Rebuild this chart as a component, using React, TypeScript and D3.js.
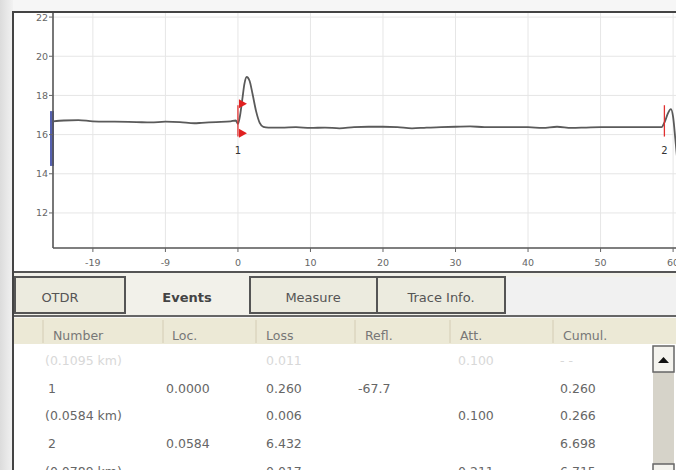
import React from "react";
import * as d3 from "d3";

const W = 676;
const H = 470;

// trace: [distance km, level dB]
const traceX = [-25.5, -24, -22, -20, -17, -14, -12, -10, -8, -6, -5, -3, -1, -0.3, 0, 0.3, 0.6, 0.9, 1.2, 1.6, 2.0, 2.5, 3.0, 3.5, 4.2, 6, 8, 10, 12, 14, 16, 18, 20, 22, 24, 26, 28, 30, 32, 34, 36, 40, 42, 44, 46, 48, 50, 54, 58.4, 58.9, 59.3, 59.7, 60.0, 60.3, 60.6];
const traceY = [16.68, 16.72, 16.74, 16.68, 16.66, 16.64, 16.62, 16.66, 16.64, 16.58, 16.6, 16.64, 16.68, 16.72, 16.55, 17.0, 17.8, 18.6, 18.94, 18.75, 18.1, 17.2, 16.6, 16.4, 16.36, 16.36, 16.38, 16.34, 16.36, 16.32, 16.38, 16.4, 16.4, 16.38, 16.32, 16.36, 16.38, 16.4, 16.42, 16.38, 16.38, 16.38, 16.34, 16.4, 16.34, 16.36, 16.38, 16.38, 16.38, 16.7, 17.1, 17.3, 16.9, 15.8, 14.6];

const xTicks = [-20, -10, 0, 10, 20, 30, 40, 50, 60];
const xTickLabels = ["-19", "-9", "0", "10", "20", "30", "40", "50", "60"];
const yTicks = [12, 14, 16, 18, 20, 22];

const eventKm = [0, 58.8];
const eventLabels = ["1", "2"];

const tabs = ["OTDR", "Events", "Measure", "Trace Info."];
const columns = ["Number", "Loc.", "Loss", "Refl.", "Att.", "Cumul."];
const rowNumber = ["(0.1095 km)", "1", "(0.0584 km)", "2", "(0.0789 km)"];
const rowLoc = ["", "0.0000", "", "0.0584", ""];
const rowLoss = ["0.011", "0.260", "0.006", "6.432", "0.017"];
const rowRefl = ["", "-67.7", "", "", ""];
const rowAtt = ["0.100", "", "0.100", "", "0.211"];
const rowCumul = ["- -", "0.260", "0.266", "6.698", "6.715"];

const FONT = "'DejaVu Sans', Verdana, sans-serif";

export default function App() {
  const left = 53;
  const right = 676;
  const top = 12;
  const bottom = 248;
  const x = d3.scaleLinear().domain([-25.5, 60.4]).range([left, right]);
  const y = d3.scaleLinear().domain([10.21, 22.26]).range([bottom, top]);
  const line = d3
    .line<number>()
    .x((_, i) => x(traceX[i]))
    .y((d) => y(d))
    .curve(d3.curveMonotoneX);

  const tabX = [15, 125, 250, 377, 505];
  const tabCenters = [60, 187, 313, 441];
  const sepX = [43, 163, 256, 355, 450, 553];
  const textX = [45, 166, 266, 358, 458, 560];
  const headX = [53, 172, 266, 365, 460, 563];
  const rowBase = [365, 393, 420, 448, 476];
  const cols = [rowNumber, rowLoc, rowLoss, rowRefl, rowAtt, rowCumul];

  return (
    <div style={{ position: "fixed", left: 0, top: 0 }}>
      <svg width={W} height={H} style={{ display: "block" }}>
        <defs>
          <linearGradient id="bg" x1="0" x2="1" y1="0" y2="0">
            <stop offset="0" stopColor="#dcdcdc" />
            <stop offset="1" stopColor="#f2f2f2" />
          </linearGradient>
          <clipPath id="plot">
            <rect x={left} y={top} width={right - left} height={bottom - top} />
          </clipPath>
        </defs>
        <rect x={0} y={0} width={W} height={H} fill="#f6f6f6" />
        <rect x={0} y={0} width={13} height={H} fill="url(#bg)" />
        {/* chart panel */}
        <rect x={13} y={12} width={W - 13} height={260} fill="#ffffff" />
        {/* grid */}
        {xTicks.map((t) => (
          <line key={"gx" + t} x1={x(t)} x2={x(t)} y1={top} y2={bottom} stroke="#e6e6e6" strokeWidth={1} />
        ))}
        {yTicks.map((t) => (
          <line key={"gy" + t} x1={left} x2={right} y1={y(t)} y2={y(t)} stroke="#e6e6e6" strokeWidth={1} />
        ))}
        {/* trace */}
        <g clipPath="url(#plot)">
          <path d={line(traceY) || ""} fill="none" stroke="#5a5a5a" strokeWidth={1.8} />
        </g>
        {/* left marker bar */}
        <rect x={left - 3} y={y(17.2)} width={4} height={y(14.4) - y(17.2)} fill="#5560b0" />
        {/* event markers */}
        {eventKm.map((k, i) => (
          <g key={"ev" + i}>
            <line x1={x(k)} x2={x(k)} y1={y(17.5)} y2={y(15.9)} stroke="#e03030" strokeWidth={1.3} />
            <text x={x(k)} y={y(15.0)} fontSize={10} fontFamily={FONT} fill="#333" textAnchor="middle">
              {eventLabels[i]}
            </text>
          </g>
        ))}
        <path d={`M${x(0) + 1},${y(17.8)} l8,4.5 l-8,4.5 z`} fill="#e02020" />
        <path d={`M${x(0) + 1},${y(16.3)} l8,4.5 l-8,4.5 z`} fill="#e02020" />
        {/* axes */}
        <line x1={left} x2={left} y1={top} y2={bottom} stroke="#555" strokeWidth={1.6} />
        <line x1={left} x2={right} y1={bottom} y2={bottom} stroke="#555" strokeWidth={1.6} />
        {yTicks.map((t) => (
          <g key={"yt" + t}>
            <line x1={left - 4} x2={left} y1={y(t)} y2={y(t)} stroke="#666" />
            <text x={left - 5} y={y(t) + 3.5} fontSize={9.5} fontFamily={FONT} fill="#666" textAnchor="end">
              {t}
            </text>
          </g>
        ))}
        {xTicks.map((t, i) => (
          <g key={"xt" + t}>
            <line x1={x(t)} x2={x(t)} y1={bottom} y2={bottom + 4} stroke="#666" />
            <text x={x(t)} y={bottom + 18} fontSize={9.5} fontFamily={FONT} fill="#666" textAnchor="middle">
              {xTickLabels[i]}
            </text>
          </g>
        ))}
        {/* frame top */}
        <line x1={13} x2={W} y1={12} y2={12} stroke="#444" strokeWidth={2} />
        {/* tab strip */}
        <rect x={13} y={272} width={W - 13} height={45} fill="#f2f1ea" />
        <rect x={505} y={277} width={W - 505} height={38} fill="#f1f1f1" />
        <line x1={13} x2={W} y1={272} y2={272} stroke="#555" strokeWidth={2} />
        {tabs.map((t, i) =>
          i === 1 ? (
            <text key={t} x={tabCenters[i]} y={302} fontSize={13} fontWeight="bold" fontFamily={FONT} fill="#444" textAnchor="middle">
              {t}
            </text>
          ) : (
            <g key={t}>
              <rect x={tabX[i]} y={277} width={tabX[i + 1] - tabX[i]} height={36} fill="#ecebdf" stroke="#555" strokeWidth={2} />
              <text x={tabCenters[i]} y={302} fontSize={13} fontFamily={FONT} fill="#555" textAnchor="middle">
                {t}
              </text>
            </g>
          )
        )}
        <line x1={13} x2={W} y1={316} y2={316} stroke="#666" strokeWidth={2} />
        {/* table header */}
        <rect x={13} y={318} width={W - 13} height={26} fill="#ece9d6" />
        {sepX.map((s, i) => (
          <line key={"sep" + i} x1={s} x2={s} y1={320} y2={343} stroke="#d4ccb4" strokeWidth={1} />
        ))}
        {columns.map((c, i) => (
          <text key={c} x={headX[i]} y={340} fontSize={12.5} fontFamily={FONT} fill="#777">
            {c}
          </text>
        ))}
        {/* table body */}
        <rect x={13} y={344} width={W - 13} height={H - 344} fill="#ffffff" />
        {cols.map((col, ci) =>
          col.map((v, ri) =>
            v ? (
              <text
                key={ci + "-" + ri}
                x={ci === 0 && (ri === 1 || ri === 3) ? 48 : textX[ci]}
                y={rowBase[ri]}
                fontSize={12.5}
                fontFamily={FONT}
                fill={ri === 0 ? "#d8d8d8" : "#666"}
              >
                {v}
              </text>
            ) : null
          )
        )}
        {/* scrollbar */}
        <rect x={653} y={346} width={21} height={H - 346} fill="#d6d3c9" />
        <rect x={653} y={346} width={21} height={26} fill="#f4f3ee" stroke="#666" strokeWidth={1.5} />
        <path d="M658,363 l5.5,-6 l5.5,6 z" fill="#111" />
        <rect x={653} y={464} width={21} height={10} fill="#f4f3ee" stroke="#666" strokeWidth={1.5} />
        {/* frame left */}
        <line x1={13} x2={13} y1={11} y2={H} stroke="#444" strokeWidth={2} />
      </svg>
    </div>
  );
}
